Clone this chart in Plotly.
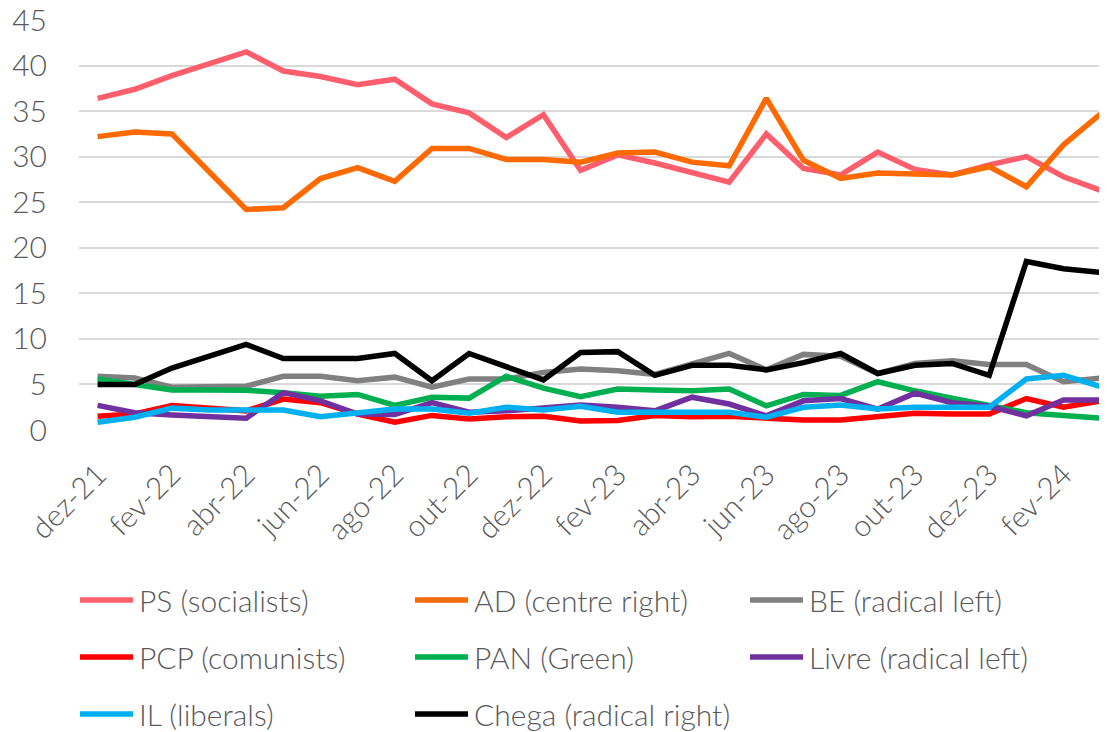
import plotly.graph_objects as go

# monthly polls, dez-21 .. mar-24
MONTHS = [
    "dez-21", "jan-22", "fev-22", "mar-22", "abr-22", "mai-22", "jun-22", "jul-22",
    "ago-22", "set-22", "out-22", "nov-22", "dez-22", "jan-23", "fev-23", "mar-23",
    "abr-23", "mai-23", "jun-23", "jul-23", "ago-23", "set-23", "out-23", "nov-23",
    "dez-23", "jan-24", "fev-24", "mar-24",
]

PS = [36.4, 37.4, 38.9, 40.2, 41.5, 39.4, 38.8, 37.9, 38.5, 35.8, 34.8, 32.1, 34.6, 28.5,
      30.2, 29.3, 28.3, 27.2, 32.5, 28.7, 28.0, 30.5, 28.6, 28.0, 29.1, 30.0, 27.8, 26.3]
AD = [32.2, 32.7, 32.5, 28.4, 24.2, 24.4, 27.6, 28.8, 27.3, 30.9, 30.9, 29.7, 29.7, 29.4,
      30.4, 30.5, 29.4, 29.0, 36.4, 29.6, 27.6, 28.2, 28.1, 28.0, 28.9, 26.7, 31.3, 34.7]
BE = [5.9, 5.7, 4.7, 4.7, 4.8, 5.9, 5.9, 5.4, 5.8, 4.7, 5.6, 5.6, 6.3, 6.7,
      6.5, 6.1, 7.3, 8.4, 6.6, 8.3, 8.1, 6.2, 7.3, 7.6, 7.2, 7.2, 5.3, 5.7]
PCP = [1.5, 1.75, 2.7, 2.4, 2.1, 3.4, 3.0, 1.75, 0.85, 1.6, 1.2, 1.45, 1.5, 1.0,
       1.05, 1.6, 1.45, 1.5, 1.3, 1.1, 1.1, 1.45, 1.85, 1.75, 1.75, 3.45, 2.5, 3.2]
PAN = [5.6, 5.0, 4.4, 4.4, 4.35, 4.1, 3.7, 3.9, 2.7, 3.6, 3.5, 5.9, 4.6, 3.65,
       4.5, 4.4, 4.3, 4.5, 2.65, 3.9, 3.8, 5.3, 4.3, 3.5, 2.7, 1.9, 1.6, 1.3]
LIVRE = [2.7, 1.9, 1.65, 1.5, 1.3, 4.1, 3.2, 1.75, 1.7, 3.0, 1.95, 2.1, 2.5, 2.75,
         2.5, 2.1, 3.6, 2.85, 1.55, 3.2, 3.45, 2.3, 4.05, 3.0, 2.6, 1.55, 3.3, 3.3]
IL = [0.85, 1.4, 2.4, 2.2, 2.2, 2.2, 1.45, 1.85, 2.3, 2.3, 1.85, 2.5, 2.2, 2.6,
      1.95, 1.95, 2.0, 1.95, 1.4, 2.5, 2.75, 2.3, 2.5, 2.5, 2.5, 5.6, 6.0, 4.75]
CHEGA = [5.0, 5.0, 6.8, 8.1, 9.4, 7.85, 7.85, 7.85, 8.4, 5.4, 8.4, 7.0, 5.5, 8.5,
         8.6, 6.0, 7.1, 7.1, 6.6, 7.4, 8.4, 6.2, 7.1, 7.3, 6.0, 18.5, 17.7, 17.3]

SERIES = [
    ("PS (socialists)", PS, "#FF5F6D"),
    ("AD (centre right)", AD, "#FF6A00"),
    ("BE (radical left)", BE, "#808080"),
    ("PCP (comunists)", PCP, "#FF0000"),
    ("PAN (Green)", PAN, "#00B050"),
    ("Livre (radical left)", LIVRE, "#7030A0"),
    ("IL (liberals)", IL, "#00B0F0"),
    ("Chega (radical right)", CHEGA, "#000000"),
]

Y_TICKS = [0, 5, 10, 15, 20, 25, 30, 35, 40, 45]
X_TICKS = MONTHS[::2]

FONT = "Lato, Segoe UI, sans-serif"
TEXT_COLOR = "#595959"

# the page body adds an 8px margin, so the figure is a bit smaller than the window
W, H = 1099, 724
L, R, T, B = 71, 0, 11, 301
PW, PH = W - L - R, H - T - B

fig = go.Figure()
for name, vals, color in SERIES:
    fig.add_trace(go.Scatter(
        x=MONTHS, y=vals, name=name, mode="lines",
        line=dict(color=color, width=5.5),
        showlegend=False,
    ))

# legend: 3 columns, 3 rows, drawn as shapes + annotations (figure pixels)
col_x = [72, 407, 742]
row_y = [592, 649, 706]
for k, (name, vals, color) in enumerate(SERIES):
    cx = col_x[k % 3]
    cy = row_y[k // 3]
    yp = (H - B - cy) / PH
    fig.add_shape(
        type="line", xref="paper", yref="paper",
        x0=(cx - L) / PW, x1=(cx + 53 - L) / PW, y0=yp, y1=yp,
        line=dict(color=color, width=5.5),
    )
    fig.add_annotation(
        xref="paper", yref="paper", x=(cx + 57 - L) / PW, y=yp,
        text=name, showarrow=False, xanchor="left", yanchor="middle",
        font=dict(family=FONT, size=30, color=TEXT_COLOR, weight=300),
    )

fig.update_layout(
    width=W, height=H,
    margin=dict(l=L, r=R, t=T, b=B),
    plot_bgcolor="white", paper_bgcolor="white",
    showlegend=False,
    font=dict(family=FONT, size=28, color=TEXT_COLOR, weight=300),
)
fig.update_xaxes(
    type="category", range=[-0.5, 27.17], automargin=False,
    tickvals=X_TICKS, ticktext=X_TICKS, tickangle=-45,
    showgrid=False, showline=False, zeroline=False,
    ticks="", ticklabelstandoff=19,
    tickfont=dict(family=FONT, size=30, color=TEXT_COLOR, weight=300),
)
fig.update_yaxes(
    range=[-0.11, 45.11], tickvals=Y_TICKS, automargin=False,
    showgrid=True, gridcolor="#D9D9D9", gridwidth=1.5,
    showline=False, zeroline=False, ticks="",
    ticklabelstandoff=31, ticklabeloverflow="allow",
    tickfont=dict(family=FONT, size=30, color=TEXT_COLOR, weight=300),
)

fig.write_html("out.html")
